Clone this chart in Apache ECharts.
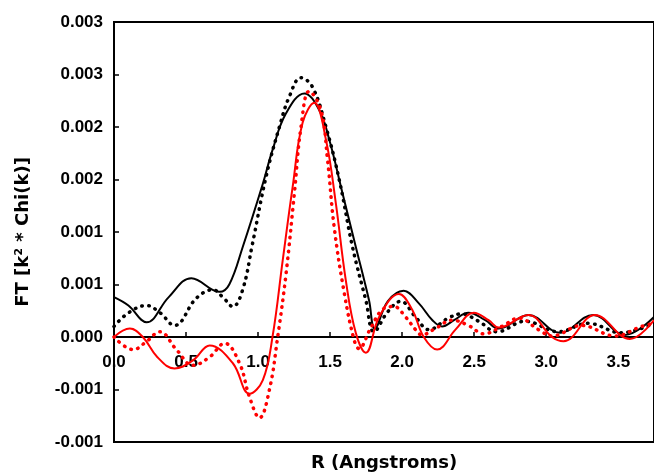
<!DOCTYPE html>
<html>
<head>
<meta charset="utf-8">
<script src="https://cdn.jsdelivr.net/npm/echarts@6/dist/echarts.min.js"></script>
<style>html,body{margin:0;padding:0;background:#fff;}#c{width:654px;height:473px;}</style>
</head>
<body>
<div id="c"></div>
<script>
// ---- data ----
var xTitle = 'R (Angstroms)';
var yTitle = 'FT [k\u00B2 * Chi(k)]';
var yTickLabels = ['-0.001','-0.001','0.000','0.001','0.001','0.002','0.002','0.003','0.003'];

var blackSolidX = [0, 0.1, 0.226, 0.38, 0.537, 0.733, 0.80, 0.894, 1.033, 1.10, 1.194, 1.321, 1.425, 1.494, 1.586, 1.678, 1.77, 1.81, 1.9, 2.01, 2.116, 2.21, 2.277, 2.36, 2.46, 2.577, 2.67, 2.877, 3.096, 3.326, 3.545, 3.748];
var blackSolidY = [0.00038, 0.0003, 0.00014, 0.00038, 0.00056, 0.00043, 0.0005, 0.00086, 0.00146, 0.00178, 0.00213, 0.00232, 0.00216, 0.00188, 0.00137, 0.00086, 0.00035, 0.00008, 0.00034, 0.00044, 0.00032, 0.00016, 0.0001, 0.00016, 0.00023, 0.00016, 0.00008, 0.00021, 0.00004, 0.00021, 0.00002, 0.00019];

var blackDotX = [0, 0.1, 0.226, 0.32, 0.42, 0.572, 0.686, 0.755, 0.825, 0.893, 0.96, 1.056, 1.148, 1.217, 1.298, 1.378, 1.471, 1.563, 1.655, 1.748, 1.805, 1.9, 1.99, 2.093, 2.185, 2.32, 2.41, 2.53, 2.658, 2.854, 3.084, 3.29, 3.52, 3.748];
var blackDotY = [0.0001, 0.00023, 0.0003, 0.00023, 0.00011, 0.00037, 0.00045, 0.00038, 0.00029, 0.00045, 0.00088, 0.00153, 0.002, 0.00229, 0.00247, 0.00238, 0.002, 0.0015, 0.00086, 0.00035, 0.00005, 0.00024, 0.00034, 0.00019, 0.00007, 0.00018, 0.00022, 0.00015, 0.00005, 0.00015, 0.00005, 0.00013, 0.00004, 0.00013];

var redSolidX = [0, 0.11, 0.2, 0.3, 0.42, 0.55, 0.664, 0.825, 0.94, 1.033, 1.1, 1.171, 1.24, 1.309, 1.39, 1.471, 1.54, 1.609, 1.678, 1.748, 1.84, 1.978, 2.07, 2.15, 2.243, 2.37, 2.497, 2.6, 2.67, 2.877, 3.04, 3.12, 3.338, 3.58, 3.748];
var redSolidY = [0, 0.00008, 0, -0.00019, -0.0003, -0.00022, -0.00008, -0.00025, -0.00054, -0.00041, 0, 0.00073, 0.00143, 0.00204, 0.00223, 0.00188, 0.00127, 0.00054, 0.00004, -0.00015, 0.00019, 0.00041, 0.00026, 0, -0.00012, 0.00007, 0.00023, 0.00016, 0.00009, 0.00021, 0, -0.00004, 0.00021, -0.00002, 0.00016];

var redDotX = [0, 0.134, 0.22, 0.318, 0.433, 0.548, 0.664, 0.768, 0.871, 0.94, 1.01, 1.079, 1.136, 1.194, 1.252, 1.298, 1.355, 1.436, 1.482, 1.528, 1.598, 1.667, 1.70, 1.78, 1.862, 1.943, 2.024, 2.093, 2.137, 2.23, 2.347, 2.46, 2.566, 2.69, 2.81, 2.946, 3.04, 3.245, 3.477, 3.66, 3.748];
var redDotY = [0, -0.00012, -0.00005, 0.00005, -0.00012, -0.00027, -0.00019, -0.00006, -0.00025, -0.00057, -0.00077, -0.0005, 0, 0.0006, 0.00137, 0.002, 0.00234, 0.00216, 0.00169, 0.00105, 0.00042, -0.00003, -0.00011, 0.00008, 0.00026, 0.00029, 0.00019, 0.00007, 0.00002, 0.00008, 0.00016, 0.00011, 0.00003, 0.0001, 0.00018, 0.00007, 0.00001, 0.00011, 0.00001, 0.0001, 0.00013];

function pairs(xs, ys) { return xs.map(function (x, i) { return [x, ys[i]]; }); }

var font = 'Liberation Sans, Arial, sans-serif';
var titleFont = 'DejaVu Sans, sans-serif';
var yMin = -0.001, yMax = 0.003;
var gridTop = 22, gridBottom = 31, H = 473;
var gridH = H - gridTop - gridBottom;
var zeroOffset = -gridH * (0 - yMin) / (yMax - yMin);

var chart = echarts.init(document.getElementById('c'), null, {renderer: 'canvas'});
chart.setOption({
  animation: false,
  grid: {left: 114, top: gridTop, right: -2, bottom: gridBottom, show: true, borderColor: '#000', borderWidth: 2, backgroundColor: 'transparent'},
  graphic: [{
    type: 'text', x: 384, y: 463, silent: true,
    style: {text: xTitle, textAlign: 'center', textVerticalAlign: 'middle', fill: '#000', font: 'bold 18px DejaVu Sans, sans-serif'}
  }],
  xAxis: {
    type: 'value', min: 0, max: 3.748, interval: 0.5, position: 'bottom', offset: zeroOffset,
    axisLine: {onZero: false, lineStyle: {color: '#000', width: 2}},
    axisTick: {inside: true, length: 5, lineStyle: {color: '#000', width: 1.5}},
    axisLabel: {showMaxLabel: false, margin: 17, color: '#000', fontFamily: font, fontWeight: 'bold', fontSize: 17,
      formatter: function (v) { return v.toFixed(1); }},
    splitLine: {show: false}
  },
  yAxis: {
    type: 'value', min: yMin, max: yMax, interval: 0.0005,
    axisLine: {show: true, lineStyle: {color: '#000', width: 2}},
    axisTick: {inside: true, length: 5, lineStyle: {color: '#000', width: 1.5}},
    axisLabel: {margin: 11, color: '#000', fontFamily: font, fontWeight: 'bold', fontSize: 17,
      formatter: function (v) { return yTickLabels[Math.round((v - yMin) / 0.0005)]; }},
    splitLine: {show: false},
    name: yTitle, nameLocation: 'middle', nameGap: 82, nameRotate: 90,
    nameTextStyle: {color: '#000', fontFamily: titleFont, fontWeight: 'bold', fontSize: 18}
  },
  series: [
    {type: 'line', data: pairs(blackSolidX, blackSolidY), smooth: 0.4, symbol: 'none', lineStyle: {color: '#000', width: 2}},
    {type: 'line', data: pairs(blackDotX, blackDotY), smooth: 0.4, symbol: 'none', lineStyle: {color: '#000', width: 3.5, type: [0.5, 6.5], cap: 'round'}},
    {type: 'line', data: pairs(redDotX, redDotY), smooth: 0.4, symbol: 'none', lineStyle: {color: '#ff0000', width: 3.5, type: [0.5, 6.5], cap: 'round'}},
    {type: 'line', data: pairs(redSolidX, redSolidY), smooth: 0.4, symbol: 'none', lineStyle: {color: '#ff0000', width: 2}}
  ]
});
</script>
</body>
</html>
